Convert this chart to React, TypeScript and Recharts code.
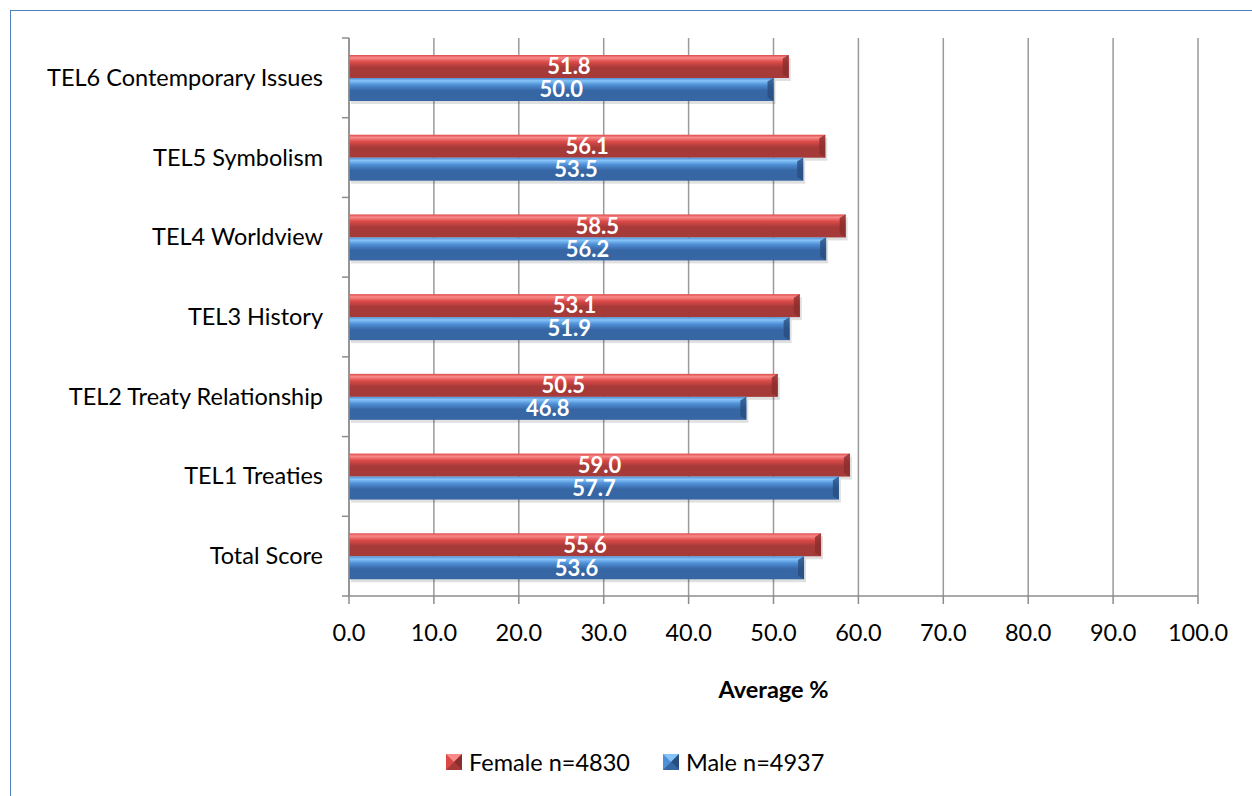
import {
  BarChart,
  Bar,
  XAxis,
  YAxis,
  CartesianGrid,
  Legend,
  LabelList,
  Label,
} from "recharts";

const categories = [
  "TEL6 Contemporary Issues",
  "TEL5 Symbolism",
  "TEL4 Worldview",
  "TEL3 History",
  "TEL2 Treaty Relationship",
  "TEL1 Treaties",
  "Total Score",
];
const female = [51.8, 56.1, 58.5, 53.1, 50.5, 59.0, 55.6];
const male = [50.0, 53.5, 56.2, 51.9, 46.8, 57.7, 53.6];
const xTicks = [0, 10, 20, 30, 40, 50, 60, 70, 80, 90, 100];

const data = categories.map((name, i) => ({
  name,
  female: female[i],
  male: male[i],
}));

const FONT = "Lato, 'Open Sans', sans-serif";
const FS = 23.5;
const PLOT_TOP = 38;
const PLOT_BOTTOM = 596;
const PLOT_LEFT = 349;
const BAND = (PLOT_BOTTOM - PLOT_TOP) / categories.length;

const palette = {
  female: { top: "#f98a8a", mid: "#dc4a48", bot: "#a53a39", edge: "#8a2d2c" },
  male: { top: "#86c4f8", mid: "#4f8fd6", bot: "#3766a4", edge: "#284e80" },
};

function bevelBar(kind: "female" | "male") {
  return (props: any) => {
    const { x, y, width, height } = props;
    if (!width || width <= 0) return <g />;
    const c = palette[kind];
    const b = 6;
    return (
      <g>
        <rect x={x + 2} y={y + 3} width={width} height={height} fill="#000" opacity={0.12} />
        <rect x={x} y={y} width={width} height={height} fill={`url(#grad-${kind})`} />
        <polygon
          points={`${x + width - b},${y + b * 0.6} ${x + width},${y} ${x + width},${y + height} ${x + width - b},${y + height - b * 0.6}`}
          fill={c.edge}
          opacity={0.8}
        />
      </g>
    );
  };
}

function CategoryTick(props: any) {
  const { x, y, payload, index } = props;
  const last = index === categories.length - 1;
  return (
    <g>
      <line x1={PLOT_LEFT - 7} x2={PLOT_LEFT} y1={y - BAND / 2} y2={y - BAND / 2} stroke="#8c8c8c" strokeWidth={1.5} />
      {last && (
        <line x1={PLOT_LEFT - 7} x2={PLOT_LEFT} y1={y + BAND / 2} y2={y + BAND / 2} stroke="#8c8c8c" strokeWidth={1.5} />
      )}
      <text x={x} y={y} dy={8} textAnchor="end" fontSize={FS} fill="#000" fontFamily={FONT}>
        {payload.value}
      </text>
    </g>
  );
}

function LegendIcon({ kind }: { kind: "female" | "male" }) {
  const c = palette[kind];
  return (
    <svg width={16} height={16} style={{ marginRight: 7 }}>
      <rect x={0} y={0} width={16} height={16} fill={c.mid} />
      <polygon points="0,0 16,0 8,8" fill={c.top} />
      <polygon points="0,16 16,16 8,8" fill={c.bot} />
      <polygon points="16,0 16,16 8,8" fill={c.edge} />
    </svg>
  );
}

function ChartLegend() {
  const items: { kind: "female" | "male"; label: string }[] = [
    { kind: "female", label: "Female n=4830" },
    { kind: "male", label: "Male n=4937" },
  ];
  return (
    <div style={{ height: 90, position: "relative", fontFamily: FONT, fontSize: FS, color: "#000" }}>
      <div style={{ position: "absolute", top: 42, left: 446, display: "flex", alignItems: "center", lineHeight: "28px" }}>
        {items.map((it) => (
          <div key={it.kind} style={{ display: "flex", alignItems: "center", marginRight: 33 }}>
            <LegendIcon kind={it.kind} />
            <span>{it.label}</span>
          </div>
        ))}
      </div>
    </div>
  );
}

const barLabelStyle = { fill: "#fff", fontSize: 22, fontWeight: "bold", fontFamily: FONT };

export default function App() {
  return (
    <div style={{ width: 1252, height: 796, position: "relative", overflow: "hidden", background: "#fff" }}>
      <style>{`body{margin:0}`}</style>
      <div
        style={{
          position: "absolute",
          left: 10,
          top: 10,
          width: 1300,
          height: 900,
          border: "1.5px solid #4f81bd",
        }}
      />
      <BarChart
        layout="vertical"
        width={1252}
        height={796}
        data={data}
        margin={{ top: PLOT_TOP, right: 54, left: 0, bottom: 0 }}
        barGap={0}
        barCategoryGap={17}
        style={{ position: "absolute", left: 0, top: 0 }}
      >
        <defs>
          {(["female", "male"] as const).map((k) => (
            <linearGradient key={k} id={`grad-${k}`} x1="0" y1="0" x2="0" y2="1">
              <stop offset="0%" stopColor={palette[k].mid} />
              <stop offset="12%" stopColor={palette[k].top} />
              <stop offset="30%" stopColor={palette[k].mid} />
              <stop offset="55%" stopColor={palette[k].bot} />
              <stop offset="100%" stopColor={palette[k].bot} />
            </linearGradient>
          ))}
        </defs>
        <CartesianGrid horizontal={false} stroke="#9a9a9a" strokeWidth={1.5} />
        <XAxis
          type="number"
          domain={[0, 100]}
          ticks={xTicks}
          tickFormatter={(v: number) => v.toFixed(1)}
          height={110}
          tickSize={8}
          tickMargin={20}
          stroke="#8c8c8c"
          strokeWidth={1.5}
          tick={{ fontSize: FS, fill: "#000", fontFamily: FONT }}
        >
          <Label
            value="Average %"
            position="insideBottom"
            offset={8}
            style={{ fontSize: FS, fontWeight: "bold", fill: "#000", fontFamily: FONT }}
          />
        </XAxis>
        <YAxis
          type="category"
          dataKey="name"
          width={PLOT_LEFT}
          tickLine={false}
          tickSize={0}
          tickMargin={26}
          stroke="#8c8c8c"
          strokeWidth={1.5}
          tick={<CategoryTick />}
        />
        <Legend verticalAlign="bottom" content={() => <ChartLegend />} />
        <Bar dataKey="female" barSize={23} shape={bevelBar("female")} isAnimationActive={false}>
          <LabelList
            dataKey="female"
            position="center"
            formatter={(v: any) => Number(v).toFixed(1)}
            style={barLabelStyle}
          />
        </Bar>
        <Bar dataKey="male" barSize={23} shape={bevelBar("male")} isAnimationActive={false}>
          <LabelList
            dataKey="male"
            position="center"
            formatter={(v: any) => Number(v).toFixed(1)}
            style={barLabelStyle}
          />
        </Bar>
      </BarChart>
    </div>
  );
}
